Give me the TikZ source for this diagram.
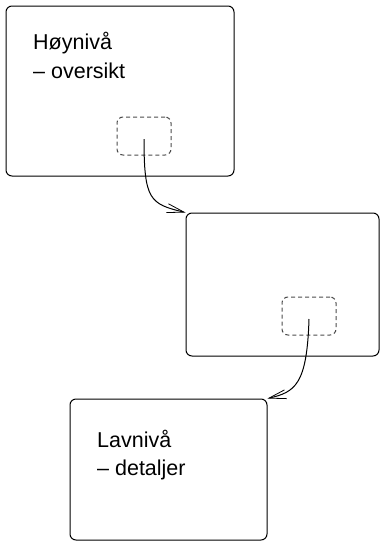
\documentclass[tikz,border=0pt]{standalone}
\usepackage{fontspec}
\setmainfont{Liberation Sans}
\usetikzlibrary{arrows.meta}
\begin{document}
\begin{tikzpicture}[x=1pt,y=-1pt,
  panel/.style={draw=black,line width=1pt,rounded corners=6pt,inner sep=0pt},
  zoombox/.style={draw=black!70,line width=1pt,dash pattern=on 4pt off 3pt,rounded corners=6pt,inner sep=0pt},
  lbl/.style={anchor=base west,inner sep=0pt,font=\fontsize{21.5}{29}\selectfont},
  link/.style={draw=black,line width=1pt,-{Straight Barb[length=17pt,width=9pt,line width=0.8pt]}}]
\useasboundingbox (0,0) rectangle (380,541);
% panels
\node[panel,minimum width=228pt,minimum height=170pt] (p1) at (120,91) {};
\node[panel,minimum width=193pt,minimum height=143pt] (p2) at (282.5,284.5) {};
\node[panel,minimum width=197pt,minimum height=141pt] (p3) at (168.5,469.5) {};
% dashed regions
\node[zoombox,minimum width=54pt,minimum height=38pt] (d1) at (144,136) {};
\node[zoombox,minimum width=54pt,minimum height=38pt] (d2) at (309,316) {};
% labels
\node[lbl] (t1) at (33,49) {Høynivå};
\node[lbl] (t1b) at (33,78) {– oversikt};
\node[lbl] (t3) at (97,447) {Lavnivå};
\node[lbl] (t3b) at (97,475) {– detaljer};
% connectors
\coordinate (s1) at (144,139);
\coordinate (s2) at (309,319);
\draw[link] (s1) .. controls (144,200) and (150,204) .. (p2.north west);
\draw[link] (s2) .. controls (307,385) and (295,392) .. (p3.north east);
\end{tikzpicture}
\end{document}
